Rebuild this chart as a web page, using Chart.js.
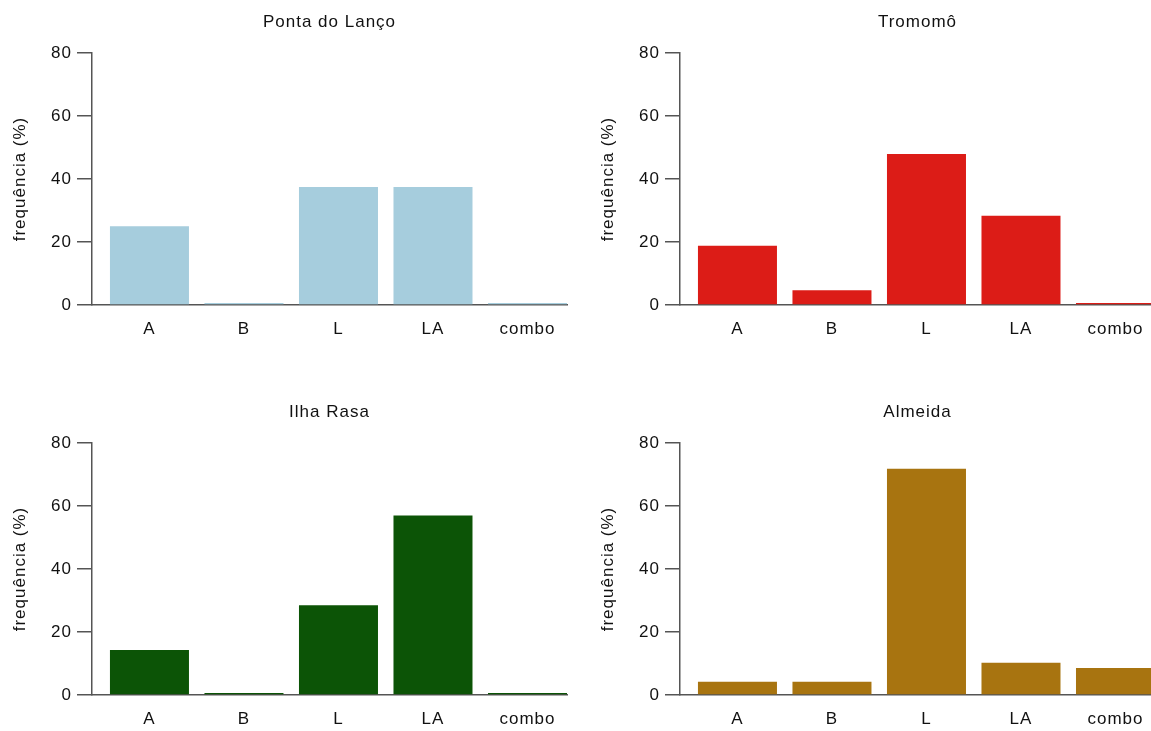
<!DOCTYPE html>
<html>
<head>
<meta charset="utf-8">
<script src="https://cdn.jsdelivr.net/npm/chart.js@4.4.1/dist/chart.umd.min.js"></script>
<style>
  html, body { margin: 0; padding: 0; background: #fff; }
  body { position: relative; width: 1151px; height: 731px; overflow: hidden; }
  .panel { position: absolute; overflow: hidden; height: 341px; }
  canvas { display: block; }
</style>
</head>
<body>
<div class="panel" style="left:0;top:0;width:588px"><canvas id="c0" width="575" height="341"></canvas></div>
<div class="panel" style="left:588px;top:0;width:563px"><canvas id="c1" width="575" height="341"></canvas></div>
<div class="panel" style="left:0;top:390px;width:588px"><canvas id="c2" width="575" height="341"></canvas></div>
<div class="panel" style="left:588px;top:390px;width:563px"><canvas id="c3" width="575" height="341"></canvas></div>
<script>
// Bat call categories and frequencies (%) per site
const categories = ['A', 'B', 'L', 'LA', 'combo'];
const yTickValues = [0, 20, 40, 60, 80];
const siteNames = ['Ponta do Lanço', 'Tromomô', 'Ilha Rasa', 'Almeida'];

const pontaDoLanco = [25, 0.6, 37.5, 37.5, 0.6];
const tromomo      = [18.8, 4.7, 47.9, 28.3, 0.6];
const ilhaRasa     = [14.3, 0.6, 28.5, 57.0, 0.6];
const almeida      = [4.2, 4.2, 71.8, 10.2, 8.6];

const siteColors = ['#a6cddd', '#dc1c17', '#0c5406', '#a87410'];
const siteValues = [pontaDoLanco, tromomo, ilhaRasa, almeida];

const FONT_FAMILY = '"Liberation Sans", Arial, sans-serif';
const FONT_SIZE = 17;
const TEXT_COLOR = '#111111';
const AXIS_COLOR = '#555555';
const SPACING = '1px';

const letterSpacing = {
  id: 'letterSpacing',
  beforeUpdate(chart) { chart.ctx.letterSpacing = SPACING; },
  beforeDraw(chart) { chart.ctx.letterSpacing = SPACING; }
};

// Panel heading centred over the plotting area
const panelTitle = {
  id: 'panelTitle',
  afterDraw(chart, args, opts) {
    const { ctx, chartArea } = chart;
    ctx.save();
    ctx.font = FONT_SIZE + 'px ' + FONT_FAMILY;
    ctx.fillStyle = TEXT_COLOR;
    ctx.textAlign = 'center';
    ctx.textBaseline = 'middle';
    ctx.fillText(opts.text, (chartArea.left + chartArea.right) / 2, 22);
    ctx.restore();
  }
};

function makeChart(canvasId, name, values, color) {
  const font = { family: FONT_FAMILY, size: FONT_SIZE };
  return new Chart(document.getElementById(canvasId), {
    type: 'bar',
    data: {
      datasets: [{
        data: values.map((v, i) => ({ x: i, y: v })),
        backgroundColor: color,
        borderWidth: 0,
        barPercentage: 0.836,
        categoryPercentage: 1
      }]
    },
    plugins: [letterSpacing, panelTitle],
    options: {
      responsive: false,
      animation: false,
      events: [],
      layout: { padding: { top: 53, right: 8, bottom: 0, left: 0 } },
      plugins: {
        legend: { display: false },
        tooltip: { enabled: false },
        panelTitle: { text: name }
      },
      scales: {
        x: {
          type: 'linear',
          offset: false,
          min: -0.608,
          max: 4.418,
          afterBuildTicks(scale) { scale.ticks = categories.map((c, i) => ({ value: i })); },
          afterFit(scale) { scale.height = 36; },
          ticks: {
            callback: v => categories[v],
            font, color: TEXT_COLOR, padding: 14,
            autoSkip: false, maxRotation: 0
          },
          grid: { display: false, drawTicks: false, offset: false },
          border: { display: true, color: AXIS_COLOR, width: 1.5 }
        },
        y: {
          min: 0,
          max: 80,
          afterBuildTicks(scale) { scale.ticks = yTickValues.map(v => ({ value: v })); },
          afterFit(scale) { scale.width = 92; },
          ticks: { font, color: TEXT_COLOR, padding: 5 },
          grid: {
            drawOnChartArea: false, drawTicks: true, tickLength: 15,
            color: AXIS_COLOR, lineWidth: 1.5
          },
          border: { display: true, color: AXIS_COLOR, width: 1.5 },
          title: {
            display: true, text: 'frequência (%)', font, color: TEXT_COLOR,
            padding: { top: 9.8, bottom: 0 }
          }
        }
      }
    }
  });
}

siteNames.forEach((name, i) => makeChart('c' + i, name, siteValues[i], siteColors[i]));
</script>
</body>
</html>
